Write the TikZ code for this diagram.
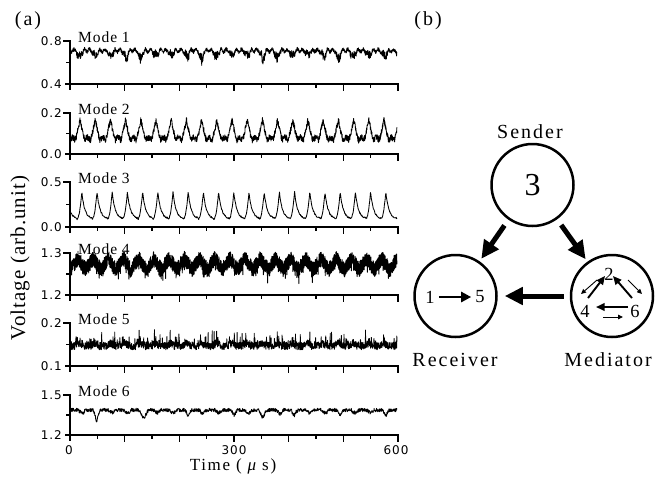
\documentclass[tikz,border=0pt]{standalone}
\usepackage{fontspec}
\setmainfont{Liberation Serif}
\newfontfamily\lsserif[LetterSpace=10]{Liberation Serif}
\newfontfamily\lsserifm[LetterSpace=6]{Liberation Serif}
\newfontfamily\lsserifb[LetterSpace=5]{Liberation Serif}
\newfontfamily\lssans[LetterSpace=8]{DejaVu Sans}
\usetikzlibrary{arrows.meta}

\tikzset{
  axisline/.style={line width=1.3pt, line cap=rect},
  sig/.style={line width=0.85pt, line join=round},
  ticklab/.style={font=\lssans\fontsize{12}{13}\selectfont, inner sep=0pt},
  modelab/.style={font=\lsserifm\fontsize{15.5}{17}\selectfont, anchor=west, inner sep=0pt},
  panellab/.style={font=\lsserif\fontsize{20}{22}\selectfont, inner sep=0pt},
  axistitle/.style={font=\lsserif\fontsize{17}{19}\selectfont, inner sep=0pt},
  role/.style={circle, draw, line width=2.5pt, minimum size=82pt, inner sep=0pt},
  rolelab/.style={font=\lsserif\fontsize{20}{22}\selectfont, inner sep=0pt},
  digit/.style={font=\fontsize{18.5}{20}\selectfont, inner sep=0pt},
  bigarrow/.style={line width=5pt, -{Triangle[length=18pt,width=17pt]}},
  midarrow/.style={line width=2.5pt, -{Triangle[length=10pt,width=10pt]}},
  smallarrow/.style={line width=1.9pt, -{Triangle[length=8.5pt,width=7.5pt]}},
  thinarrow/.style={line width=0.9pt, -{Triangle[length=5pt,width=4.5pt]}},
}

% axes frame of one trace: #1 top, #2 bottom, #3 top label, #4 bottom label, #5 title
\newcommand\traceaxes[5]{%
  \draw[axisline] (64,#1) -- (70,#1) -- (70,#2+5);
  \draw[axisline] (67,{(#1+#2)/2}) -- (70,{(#1+#2)/2});
  \draw[axisline] (66,#2) -- (398,#2);
  \foreach \k in {1,...,12}{
    \pgfmathsetmacro\tx{70+\k*27.333}
    \pgfmathsetmacro\tl{mod(\k,2)==0 ? 6 : 3}
    \draw[axisline] (\tx,#2) -- (\tx,#2+\tl);
  }
  \node[ticklab, anchor=east] at (62,#1) {#3};
  \node[ticklab, anchor=east] at (62,#2) {#4};
  \node[modelab] at (78,#1-4) {#5};
}

\begin{document}
\begin{tikzpicture}[x=1pt,y=-1pt]
\useasboundingbox (0,0) rectangle (666,483);
\pgfmathsetseed{4711}

% ---------------- panel (a): time traces ----------------
\node[panellab] (pa) at (28,21) {(a)};

\traceaxes{41}{84}{0.8}{0.4}{Mode 1}
\traceaxes{113}{154}{0.2}{0.0}{Mode 2}
\traceaxes{182}{227}{0.5}{0.0}{Mode 3}
\traceaxes{253}{295}{1.3}{1.2}{Mode 4}
\traceaxes{323}{366}{0.2}{0.1}{Mode 5}
\traceaxes{395}{435}{1.5}{1.2}{Mode 6}

% Mode 1: flat trace with periodic dips
\draw[sig] plot[domain=71:397, samples=1500, variable=\x]
  (\x, {50.5 + (5+5*max(0,sin(\x*29)))*max(0,1-abs(mod(\x-73+152,15.2)-7)/4.2)
        - 1.3*sin(mod(\x-73+152,15.2)*71)
        + (1.9+0.45*(5+5*max(0,sin(\x*29)))*max(0,1-abs(mod(\x-73+152,15.2)-7)/4.2))*rand});

% Mode 2: periodic peaks on a noisy floor
\draw[sig] plot[domain=71:397, samples=1600, variable=\x]
  (\x, {139 - 17*max(0,1-abs(mod(\x-72.4+152,15.2)-7.6)/4.8)
        - 1.5*cos(mod(\x-72.4+152,15.2)*47.37) + 3.2*rand});

% Mode 3: clean relaxation pulses
\draw[sig] plot[domain=71:397, samples=800, variable=\x]
  (\x, {219 - 27*min((mod(\x-77+152,15.2)/4.8)^2, exp(-(mod(\x-77+152,15.2)-4.8)/3)) + 0.8*rand});

% Mode 4: dense noisy band with triangular drift
\draw[sig, line width=0.95pt] plot[domain=71:397, samples=3400, variable=\x]
  (\x, {269.5 - 11*max(0,1-abs(mod(\x-70.4+152,15.2)-7.6)/7.6) + 7.5*rand + 10*rnd^25});

% Mode 5: noisy trace with upward spikes
\draw[sig] plot[domain=71:397, samples=1700, variable=\x]
  (\x, {346 - 3*max(0,1-abs(mod(\x-72+152,15.2)-7.6)/4) + 3.8*rand - 13*rnd^18});

% Mode 6: flat trace with shallow dips
\draw[sig] plot[domain=71:397, samples=1200, variable=\x]
  (\x, {410 + (3+3*max(0,sin(\x*31)))*max(0,1-abs(mod(\x-74+152,15.2)-7.6)/3.8)
        + 6*max(0,1-abs(\x-97)/3.5) + 6*max(0,1-abs(\x-145)/3.5) + 6*max(0,1-abs(\x-262)/3.5)
        + 1.8*rand});

% axis numbers and titles
\node[ticklab] (t0) at (69,450) {0};
\node[ticklab] (t300) at (234,450) {300};
\node[ticklab] (t600) at (396,450) {600};
\node[axistitle] (tt) at (233,466) {Time ( {\itshape μ} s)};
\node[font=\lsserifb\fontsize{21}{23}\selectfont, inner sep=0pt, rotate=90] (vt) at (20,258) {Voltage (arb.unit)};

% ---------------- panel (b): role diagram ----------------
\node[panellab] (pb) at (428,21) {(b)};

\node[role] (S) at (532.5,185) {};
\node[role] (R) at (455.5,296) {};
\node[role] (M) at (612,296) {};

\node[rolelab] (Sl) at (530,132) {Sender};
\node[rolelab] (Rl) at (455,360) {Receiver};
\node[rolelab] (Ml) at (608,360) {Mediator};

\node[font=\fontsize{32}{34}\selectfont, inner sep=0pt] (s3) at (S) {3};

\draw[bigarrow, shorten <=7pt, shorten >=3pt] (S) -- (R);
\draw[bigarrow, shorten <=7pt, shorten >=3pt] (S) -- (M);
\draw[bigarrow, shorten <=6pt, shorten >=7pt] (M) -- (R);

% receiver interior
\node[digit] (r1) at (430,297) {1};
\node[digit] (r5) at (480,297) {5};
\draw[midarrow, shorten <=4pt, shorten >=4pt] (r1) -- (r5);

% mediator interior
\node[digit] (m2) at (609,274) {2};
\node[digit] (m4) at (585,311) {4};
\node[digit] (m6) at (635,311) {6};
\coordinate (a4s) at (588,298);
\coordinate (a4e) at (605,276);
\coordinate (a6s) at (632,298);
\coordinate (a6e) at (613,276);
\coordinate (b4s) at (597,280);
\coordinate (b4e) at (581,294);
\coordinate (b6s) at (628,280);
\coordinate (b6e) at (642,294);
\coordinate (c64s) at (628,307);
\coordinate (c64e) at (596,307);
\coordinate (c46s) at (603,317);
\coordinate (c46e) at (623,317);
\draw[smallarrow] (a4s) -- (a4e);
\draw[smallarrow] (a6s) -- (a6e);
\draw[thinarrow] (b4s) -- (b4e);
\draw[thinarrow] (b6s) -- (b6e);
\draw[smallarrow] (c64s) -- (c64e);
\draw[thinarrow] (c46s) -- (c46e);
\end{tikzpicture}
\end{document}
